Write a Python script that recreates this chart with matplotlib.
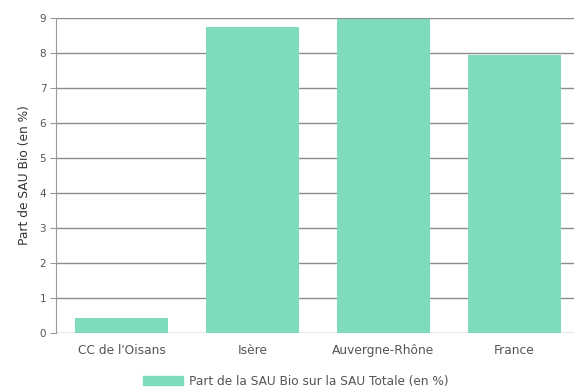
import matplotlib
matplotlib.use("Agg")
import matplotlib.pyplot as plt
from matplotlib.patches import Patch

categories = ["CC de l'Oisans", "Isère", "Auvergne-Rhône", "France"]
values = [0.43, 8.75, 8.97, 7.95]
yticks = [0, 1, 2, 3, 4, 5, 6, 7, 8, 9]
series_label = "Part de la SAU Bio sur la SAU Totale (en %)"
ylabel = "Part de SAU Bio (en %)"

plt.rcParams['font.family'] = ['DejaVu Sans']

W, H = 574, 389
fig = plt.figure(figsize=(W / 100, H / 100), dpi=100)
ax = fig.add_axes([56 / W, 1 - 333 / H, 524 / W, (333 - 18) / H])

bar_color = '#7fdcbb'
x = range(len(categories))
ax.bar(x, values, width=0.71, color=bar_color, zorder=1)

ax.set_xlim(-0.5, 3.5)
ax.set_ylim(0, 9)
ax.set_yticks(yticks)
ax.set_yticklabels([str(t) for t in yticks], fontsize=7.5, color='#555555')
ax.set_xticks(list(x))
ax.set_xticklabels(categories, fontsize=8.8, color='#555555')
ax.tick_params(axis='y', length=4, color='#999999', pad=3)
ax.tick_params(axis='x', length=0, pad=8)
ax.grid(axis='y', color='#8c8c8c', linewidth=1, zorder=0)
ax.set_axisbelow(True)
for s in ['top', 'right', 'bottom']:
    ax.spines[s].set_visible(False)
ax.spines['left'].set_color('#999999')

ax.set_ylabel(ylabel, fontsize=8.8, color='#333333', labelpad=6)

fig.legend(handles=[Patch(color=bar_color, label=series_label)],
           loc='center left', bbox_to_anchor=(143 / W, 1 - 381 / H),
           frameon=False, fontsize=8.7, handlelength=3.3, handleheight=0.8,
           labelcolor='#555555', handletextpad=0.5, borderpad=0, borderaxespad=0)

fig.savefig('out.png', dpi=100)
